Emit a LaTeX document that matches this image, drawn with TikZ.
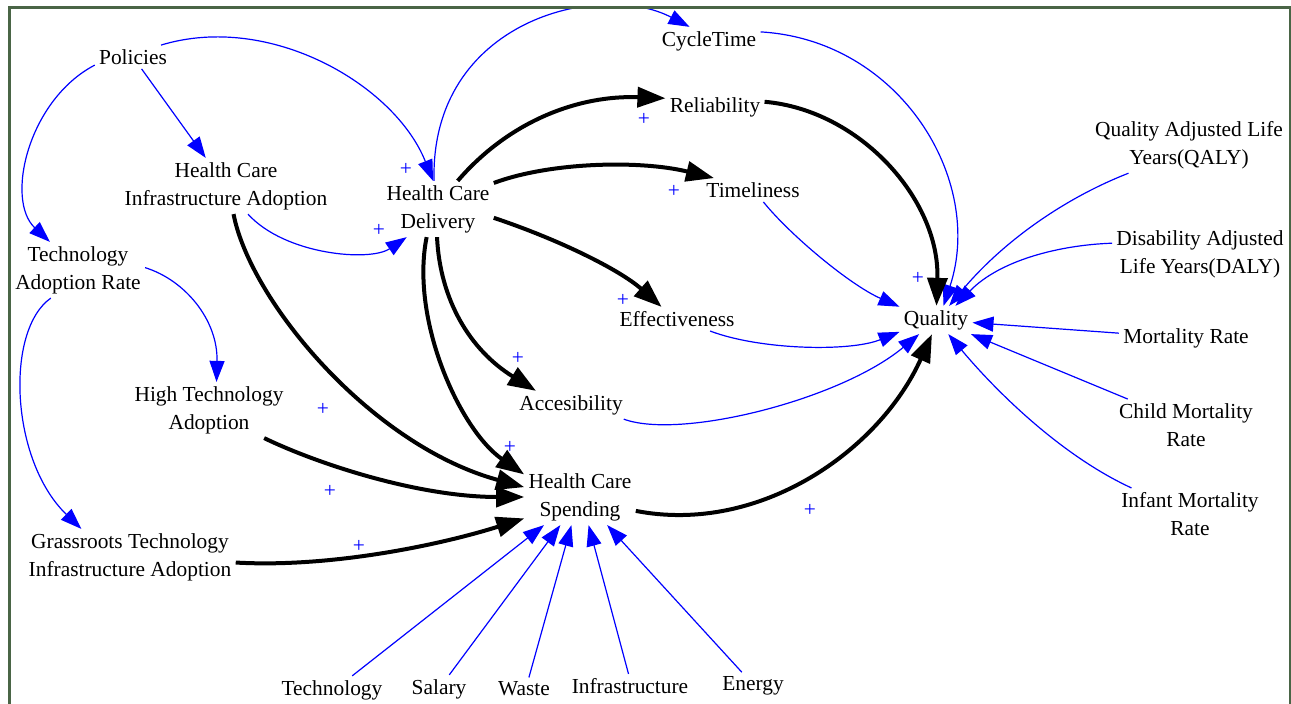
\documentclass[tikz,border=0pt]{standalone}
\usepackage{fontspec}
\setmainfont{Liberation Serif}
\usetikzlibrary{arrows.meta}
\definecolor{framegreen}{RGB}{74,101,70}
\begin{document}
\begin{tikzpicture}[x=0.5pt,y=-0.5pt,
 lbl/.style={font=\fontsize{10.7}{14}\selectfont, inner sep=2pt, align=center},
 pl/.style={font=\fontsize{10.7}{14}\selectfont, text=blue, inner sep=0pt},
 bl/.style={draw=blue, line width=0.6pt, -{Triangle[length=10.5pt,width=7.5pt]}},
 bk/.style={draw=black, line width=2pt, -{Triangle[length=14pt,width=10pt]}},
]
\useasboundingbox (0,0) rectangle (1291,704);
\node[lbl] (pol) at (133,57) {Policies};
\node[lbl] (hcia) at (226,186) {Health Care\\Infrastructure Adoption};
\node[lbl] (tar) at (78,270) {Technology\\Adoption Rate};
\node[lbl] (hcd) at (438,209) {Health Care\\Delivery};
\node[lbl] (cyc) at (709,41) {CycleTime};
\node[lbl] (rel) at (715,107) {Reliability};
\node[lbl] (tim) at (753,190) {Timeliness};
\node[lbl] (eff) at (677,319) {Effectiveness};
\node[lbl] (acc) at (571,405) {Accesibility};
\node[lbl] (hcs) at (580,497) {Health Care\\Spending};
\node[lbl] (hta) at (209,410) {High Technology\\Adoption};
\node[lbl] (gra) at (130,557) {Grassroots Technology\\Infrastructure Adoption};
\node[lbl] (qual) at (936,320) {Quality};
\node[lbl] (qaly) at (1189,145) {Quality Adjusted Life\\Years(QALY)};
\node[lbl] (daly) at (1200,254) {Disability Adjusted\\Life Years(DALY)};
\node[lbl] (mort) at (1186,338) {Mortality Rate};
\node[lbl] (child) at (1186,425) {Child Mortality\\Rate};
\node[lbl] (infant) at (1190,514) {Infant Mortality\\Rate};
\node[lbl] (tech) at (332,690) {Technology};
\node[lbl] (sal) at (439,689) {Salary};
\node[lbl] (waste) at (524,689) {Waste};
\node[lbl] (infra) at (630,686) {Infrastructure};
\node[lbl] (energy) at (753,686) {Energy};
\begin{scope}
\clip (10.5,9) rectangle (1288,704);
% blue links
\draw[bl] (pol) -- (hcia);
\draw[bl] (pol.192) .. controls (28,100) and (5,200) .. (tar.135);
\draw[bl] (pol.23) .. controls (270,12) and (395,85) .. (hcd.100);
\draw[bl] (hcia.-52) .. controls (285,255) and (370,262) .. (hcd.222);
\draw[bl] (hcd.98) .. controls (430,20) and (600,-20) .. (cyc.144);
\draw[bl] (tar.2) .. controls (185,280) and (218,320) .. (hta.75);
\draw[bl] (tar.226) .. controls (5,330) and (10,460) .. (gra.150);
\draw[bl] (cyc.10) .. controls (900,40) and (985,180) .. (qual.62);
\draw[bl] (tim.-49) .. controls (790,235) and (850,285) .. (qual.160);
\draw[bl] (eff.-20) .. controls (760,350) and (850,352) .. (qual.198);
\draw[bl] (acc.-15) .. controls (680,440) and (840,400) .. (qual.220);
\draw[bl] (qaly.205) .. controls (1060,200) and (1000,245) .. (qual.47);
\draw[bl] (daly.173) .. controls (1060,245) and (1000,260) .. (qual.36);
\draw[bl] (mort) -- (qual);
\draw[bl] (child.156) -- (qual.-22);
\draw[bl] (infant.156) .. controls (1060,455) and (995,390) .. (qual.-49);
\draw[bl] (tech.35) -- (hcs.218);
\draw[bl] (sal.54) -- (hcs.235);
\draw[bl] (waste.67) -- (hcs.253);
\draw[bl] (infra.97) -- (hcs.287);
\draw[bl] (energy.129) -- (hcs.-46);
% black links
\draw[bk] (hcd.55) .. controls (510,120) and (580,95) .. (rel.170);
\draw[bk] (hcd.25) .. controls (550,162) and (640,160) .. (tim.163);
\draw[bk] (hcd.-9) .. controls (560,240) and (620,270) .. (eff.142);
\draw[bk] (hcd.268) .. controls (440,300) and (470,350) .. (acc.158);
\draw[bk] (hcd.248) .. controls (410,320) and (460,430) .. (hcs.158);
\draw[bk] (hcia.-75) .. controls (250,300) and (370,445) .. (hcs.170);
\draw[bk] (hta.-27) .. controls (320,465) and (420,497) .. (hcs.180);
\draw[bk] (gra.-3) .. controls (330,568) and (440,545) .. (hcs.201);
\draw[bk] (hcs.-14) .. controls (760,535) and (880,450) .. (qual.254);
\draw[bk] (rel.6) .. controls (860,110) and (940,200) .. (qual.88);
\end{scope}
% plus signs
\foreach \px/\py [count=\i] in {406/169,379/230,644/119,674/191,623/300,518/358,510/447,323/409,330/491,359/546,810/510,918/278}
  \node[pl] (plus\i) at (\px,\py) {+};
% frame
\draw[framegreen, line width=1.3pt] (9.5,704) -- (9.5,7.5) -- (1290,7.5) -- (1290,704);
\end{tikzpicture}
\end{document}
